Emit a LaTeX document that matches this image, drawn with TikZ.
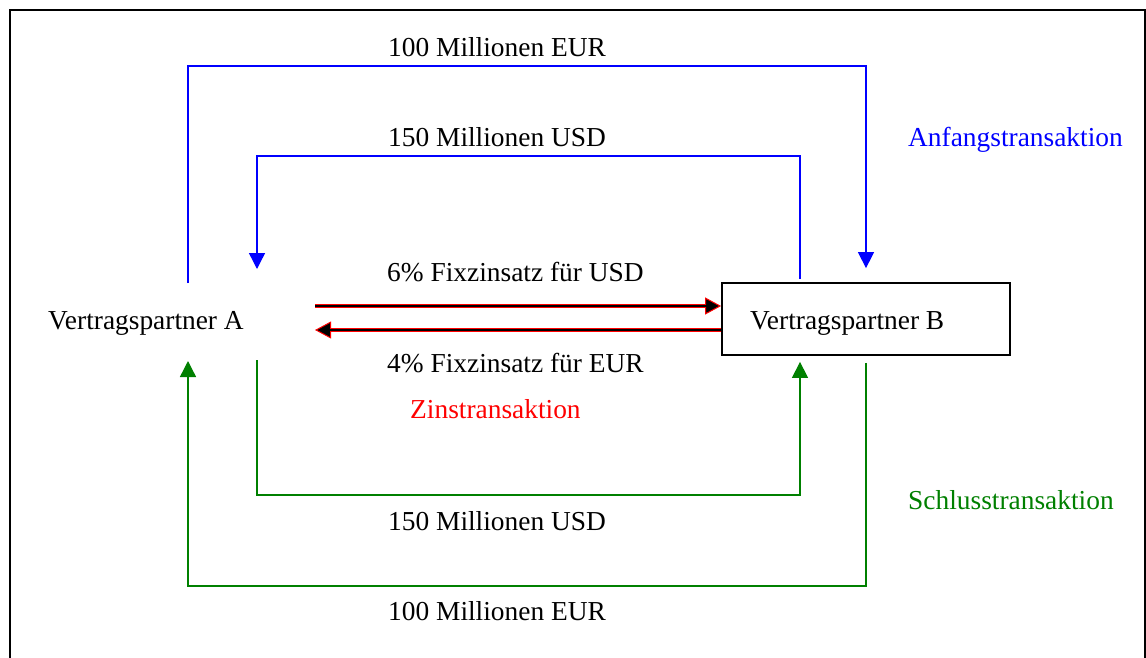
\documentclass[tikz,border=0pt]{standalone}
\usepackage{fontspec}
\setmainfont{Liberation Serif}
\usetikzlibrary{arrows.meta,calc}
\definecolor{dgreen}{RGB}{0,128,0}
\tikzset{
  lbl/.style={anchor=base west,inner sep=0pt,font=\fontsize{27.4}{32}\selectfont},
  bl/.style={draw=blue,line width=1.4pt},
  gr/.style={draw=dgreen,line width=1.4pt},
  btip/.style={-{Triangle[length=16pt,width=16pt]}},
  redarrow/.style={draw=red,line width=3.2pt,-{Triangle[length=16pt,width=17pt,fill=black,line width=1pt]}},
  blackcore/.style={draw=black,line width=1.3pt,shorten >=12pt},
}
\begin{document}
\begin{tikzpicture}[x=1pt,y=-1pt]
\useasboundingbox (0,0) rectangle (1146,657);
\fill[white] (0,0) rectangle (1146,657);
% frame
\draw[line width=2pt] (10,700) -- (10,10) -- (1145,10) -- (1145,700);
% nodes
\node[lbl] (A) at (48,329) {Vertragspartner A};
\node[draw,line width=1.8pt,minimum width=288pt,minimum height=72pt,inner sep=0pt] (B) at (866,319) {};
\node[lbl] (Bt) at (750,329) {Vertragspartner B};
% helper coordinates
\coordinate (ya) at (0,66);
\coordinate (yb) at (0,156);
\coordinate (yc) at (0,495);
\coordinate (yd) at (0,586);
\coordinate (xb1) at (800,0);
\coordinate (a1) at (188,283);
\coordinate (a2) at (257,269);
\coordinate (a3) at (257,360);
\coordinate (a4) at (188,361);
\coordinate (r1) at (315,306);
\coordinate (r2) at (315,330);
% blue
\draw[bl,btip] (a1) |- (ya -| B.north) -- ([yshift=14pt]B.north);
\draw[bl,btip] ([xshift=-66pt,yshift=3pt]B.north) |- (yb -| a2) -- (a2);
% green
\draw[gr,btip] (a3) |- (yc -| xb1) -- ([xshift=-66pt,yshift=-6pt]B.south);
\draw[gr,btip] ([yshift=-7pt]B.south) |- (yd -| a4) -- (a4);
% interest arrows
\draw[redarrow] (r1) -- ([yshift=13pt]B.west);
\draw[blackcore] (r1) -- ([yshift=13pt]B.west);
\draw[redarrow] ([yshift=-11pt]B.west) -- (r2);
\draw[blackcore] ([yshift=-11pt]B.west) -- (r2);
% labels
\node[lbl] (l1) at (388,56) {100 Millionen EUR};
\node[lbl] (l2) at (388,146) {150 Millionen USD};
\node[lbl,text=blue] (l3) at (908,146) {Anfangstransaktion};
\node[lbl] (l4) at (387,281) {6\% Fixzinsatz für USD};
\node[lbl] (l5) at (387,372) {4\% Fixzinsatz für EUR};
\node[lbl,text=red] (l6) at (410,418) {Zinstransaktion};
\node[lbl] (l7) at (388,530) {150 Millionen USD};
\node[lbl,text=dgreen] (l8) at (908,509) {Schlusstransaktion};
\node[lbl] (l9) at (388,620) {100 Millionen EUR};
\end{tikzpicture}
\end{document}
